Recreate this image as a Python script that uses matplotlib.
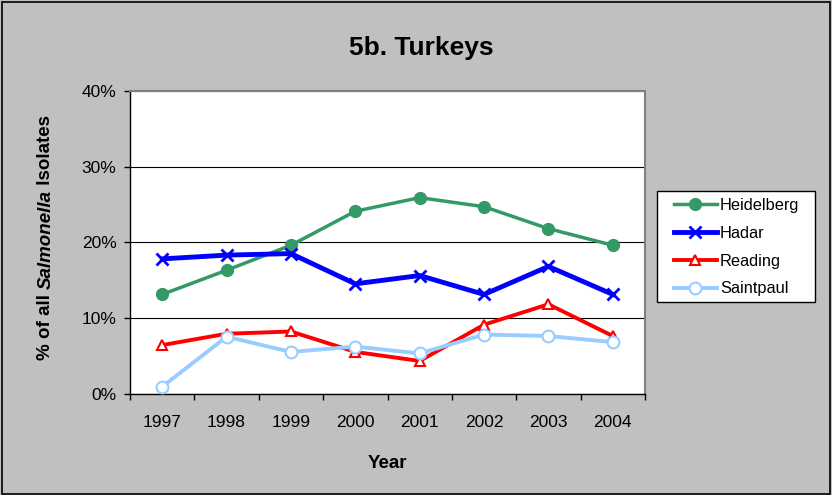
import matplotlib
matplotlib.use('Agg')
from matplotlib import pyplot as plt
from matplotlib.patches import Rectangle
from matplotlib.ticker import PercentFormatter, FixedLocator

plt.rcParams['font.family'] = ['Liberation Sans', 'DejaVu Sans']

years = ['1997', '1998', '1999', '2000', '2001', '2002', '2003', '2004']
heidelberg = [13.1, 16.3, 19.6, 24.1, 25.9, 24.7, 21.8, 19.6]
hadar = [17.8, 18.3, 18.5, 14.5, 15.6, 13.1, 16.8, 13.1]
reading = [6.4, 7.9, 8.2, 5.5, 4.3, 9.1, 11.8, 7.6]
saintpaul = [0.9, 7.5, 5.5, 6.2, 5.3, 7.8, 7.6, 6.8]

W, H = 832, 495
fig = plt.figure(figsize=(8.32, 4.95), dpi=100, facecolor='#C0C0C0')
fig.patches.append(Rectangle((0.002, 0.002), 0.996, 0.994, transform=fig.transFigure,
                             fill=False, edgecolor='black', linewidth=1.2))

ax = fig.add_axes([130 / W, 1 - 393.5 / H, 515 / W, 302.5 / H])
ax.set_facecolor('white')

xs = range(len(years))
ax.plot(xs, heidelberg, color='#339966', lw=2.5, marker='o', ms=8.5, label='Heidelberg', zorder=3)
ax.plot(xs, hadar, color='#0000FF', lw=3.5, marker='x', ms=9, mew=2, label='Hadar', zorder=3)
ax.plot(xs, reading, color='#FF0000', lw=2.8, marker='^', ms=7, mfc='white', mew=1.5,
        label='Reading', zorder=3)
ax.plot(xs, saintpaul, color='#99CCFF', lw=2.8, marker='o', ms=8.5, mfc='white', mew=1.5,
        label='Saintpaul', zorder=3)

ax.set_xlim(-0.5, len(years) - 0.5)
ax.set_ylim(0, 40)
ax.set_xticks(list(xs))
ax.set_xticklabels(years, fontsize=12.5)
ax.xaxis.set_minor_locator(FixedLocator([i - 0.5 for i in range(len(years) + 1)]))
ax.tick_params(axis='x', which='major', length=0, pad=15.5)
ax.tick_params(axis='x', which='minor', length=4.3, width=1, direction='out')
ax.set_yticks([0, 10, 20, 30, 40])
ax.yaxis.set_major_formatter(PercentFormatter(decimals=0))
ax.tick_params(axis='y', length=4.3, width=1, direction='out', labelsize=12.5, pad=5.5)
ax.grid(axis='y', color='black', lw=0.8)
ax.set_axisbelow(True)

for s in ['top', 'right']:
    ax.spines[s].set_color('#808080')
    ax.spines[s].set_linewidth(1.5)
for s in ['left', 'bottom']:
    ax.spines[s].set_color('black')
    ax.spines[s].set_linewidth(1)

fig.text(421 / W, 1 - 48 / H, '5b. Turkeys', ha='center', va='center',
         fontsize=19, fontweight='bold')
fig.text(387 / W, 1 - 463 / H, 'Year', ha='center', va='center',
         fontsize=13.5, fontweight='bold')

# y label with italic Salmonella, built from pieces
parts = [('% of all ', 'normal'), ('Salmonella', 'italic'), (' Isolates', 'normal')]
fig.canvas.draw()
renderer = fig.canvas.get_renderer()
texts = []
for txt, style in parts:
    t = fig.text(0, 0, txt, rotation=90, fontsize=13.5, fontweight='bold', fontstyle=style,
                 ha='center', va='bottom')
    texts.append(t)
heights = [t.get_window_extent(renderer).height for t in texts]
total = sum(heights)
ycur = (H - 237.5) - total / 2
for t, h in zip(texts, heights):
    t.set_position((46 / W, ycur / H))
    ycur += h

# legend frame drawn separately, entries placed inside it
fig.patches.append(Rectangle((657 / W, 1 - 302 / H), 158 / W, 111 / H, transform=fig.transFigure,
                             facecolor='white', edgecolor='black', linewidth=1, zorder=2))
leg = fig.legend(loc='upper left', bbox_to_anchor=(674 / W, 1 - 198 / H),
                 borderaxespad=0, borderpad=0, fontsize=11.8, frameon=False,
                 handlelength=2.6, handletextpad=0.2, labelspacing=0.78)
leg.set_zorder(3)

fig.savefig('out.png', dpi=100, facecolor=fig.get_facecolor())
